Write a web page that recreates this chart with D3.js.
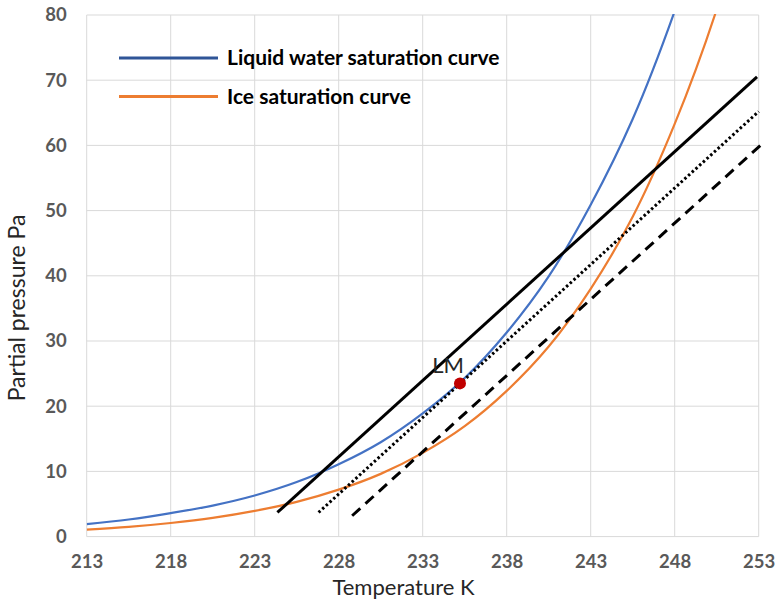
<!DOCTYPE html>
<html>
<head>
<meta charset="utf-8">
<script src="https://cdn.jsdelivr.net/npm/d3@7"></script>
<style>
  html, body { margin: 0; padding: 0; background: #fff; }
  svg { display: block; }
</style>
</head>
<body>
<svg id="chart" width="776" height="606"></svg>
<script>
// ---- data ----
const temperatureK = [213, 215.5, 218, 220.5, 223, 225.5, 228, 230.5, 233, 235.5, 238, 240.5, 243, 245.5, 248, 250.5, 253];
const liquidPa     = [1.9, 2.62, 3.6, 4.76, 6.3, 8.36, 11.1, 14.48, 18.9, 24.32, 31.3, 39.9, 50.9, 64.05, 80.6, 100.5, 125.4];
const icePa        = [1.08, 1.5, 2.09, 2.87, 3.94, 5.33, 7.2, 9.62, 12.84, 16.94, 22.35, 29.15, 38.01, 49.05, 63.29, 80.86, 103.3];

const solidLineT  = [224.35, 252.9];
const solidLineP  = [3.7, 70.5];
const dottedLineT = [226.8, 253.0];
const dottedLineP = [3.7, 65.2];
const dashedLineT = [228.8, 253.1];
const dashedLineP = [3.2, 60.0];

const lmPoint = { t: 235.22, p: 23.5, label: "LM" };

const xTicks = [213, 218, 223, 228, 233, 238, 243, 248, 253];
const yTicks = [0, 10, 20, 30, 40, 50, 60, 70, 80];

const legendLabels = ["Liquid water saturation curve", "Ice saturation curve"];
const xTitle = "Temperature K";
const yTitle = "Partial pressure Pa";

// ---- layout ----
const svg = d3.select("#chart");
const pLeft = 86.7, pRight = 758.7, pTop = 15, pBottom = 536.6;
const x = d3.scaleLinear().domain([213, 253]).range([pLeft, pRight]);
const y = d3.scaleLinear().domain([0, 80]).range([pBottom, pTop]);

const gridColor = "#d9d9d9";
const tickColor = "#595959";
const font = "Lato, 'Open Sans', sans-serif";

// grid
const grid = svg.append("g");
grid.selectAll("line.v").data(xTicks).join("line")
  .attr("x1", d => x(d)).attr("x2", d => x(d))
  .attr("y1", pTop).attr("y2", pBottom)
  .attr("stroke", gridColor).attr("stroke-width", 1);
grid.selectAll("line.h").data(yTicks).join("line")
  .attr("x1", pLeft).attr("x2", pRight)
  .attr("y1", d => y(d)).attr("y2", d => y(d))
  .attr("stroke", gridColor).attr("stroke-width", 1);

// axes (labels only)
const xAxis = d3.axisBottom(x).tickValues(xTicks).tickSize(0).tickPadding(18).tickFormat(d3.format("d"));
const gx = svg.append("g").attr("transform", `translate(0,${pBottom})`).call(xAxis);
gx.select(".domain").remove();
gx.selectAll("text").attr("font-family", font).attr("font-size", 18.5).attr("font-weight", "bold").attr("fill", tickColor);

const yAxis = d3.axisLeft(y).tickValues(yTicks).tickSize(0).tickPadding(20).tickFormat(d3.format("d"));
const gy = svg.append("g").attr("transform", `translate(${pLeft},0)`).call(yAxis);
gy.select(".domain").remove();
gy.selectAll("text").attr("font-family", font).attr("font-size", 18.5).attr("font-weight", "bold").attr("fill", tickColor);

// axis titles
svg.append("text").attr("x", 403.5).attr("y", 595)
  .attr("text-anchor", "middle").attr("font-family", font).attr("font-size", 22)
  .attr("fill", "#262626").text(xTitle);
svg.append("text").attr("transform", "translate(25,308) rotate(-90)")
  .attr("text-anchor", "middle").attr("font-family", font).attr("font-size", 23)
  .attr("fill", "#262626").text(yTitle);

// clip
svg.append("clipPath").attr("id", "plotclip").append("rect")
  .attr("x", pLeft).attr("y", pTop - 1).attr("width", pRight - pLeft).attr("height", pBottom - pTop + 1);

const plot = svg.append("g").attr("clip-path", "url(#plotclip)");
const curveGen = d3.line().x(d => x(d[0])).y(d => y(d[1])).curve(d3.curveCatmullRom.alpha(0.5));

plot.append("path").datum(temperatureK.map((t, i) => [t, icePa[i]]))
  .attr("d", curveGen).attr("fill", "none").attr("stroke", "#ED7D31").attr("stroke-width", 2.2);
plot.append("path").datum(temperatureK.map((t, i) => [t, liquidPa[i]]))
  .attr("d", curveGen).attr("fill", "none").attr("stroke", "#4472C4").attr("stroke-width", 2.2);

const straight = d3.line().x(d => x(d[0])).y(d => y(d[1]));
svg.append("path").datum(solidLineT.map((t, i) => [t, solidLineP[i]]))
  .attr("d", straight).attr("fill", "none").attr("stroke", "#000").attr("stroke-width", 3);
svg.append("path").datum(dottedLineT.map((t, i) => [t, dottedLineP[i]]))
  .attr("d", straight).attr("fill", "none").attr("stroke", "#000").attr("stroke-width", 3)
  .attr("stroke-dasharray", "2.5,2.5");
svg.append("path").datum(dashedLineT.map((t, i) => [t, dashedLineP[i]]))
  .attr("d", straight).attr("fill", "none").attr("stroke", "#000").attr("stroke-width", 3)
  .attr("stroke-dasharray", "11,7");

// LM point
svg.append("circle").attr("cx", x(lmPoint.t)).attr("cy", y(lmPoint.p)).attr("r", 6)
  .attr("fill", "#C00000");
svg.append("text").attr("x", x(lmPoint.t) - 12).attr("y", y(lmPoint.p) - 10)
  .attr("text-anchor", "middle").attr("font-family", font).attr("font-size", 22)
  .attr("fill", "#262626").text(lmPoint.label);

// legend
const legendColors = ["#2F5597", "#ED7D31"];
const legendY = [58, 96.5];
const lg = svg.append("g");
legendLabels.forEach((lab, i) => {
  lg.append("line").attr("x1", 119).attr("x2", 218).attr("y1", legendY[i]).attr("y2", legendY[i])
    .attr("stroke", legendColors[i]).attr("stroke-width", 3);
  lg.append("text").attr("x", 227).attr("y", legendY[i] + 7)
    .attr("font-family", font).attr("font-size", 21).attr("font-weight", "bold")
    .attr("fill", "#000").text(lab);
});
</script>
</body>
</html>
